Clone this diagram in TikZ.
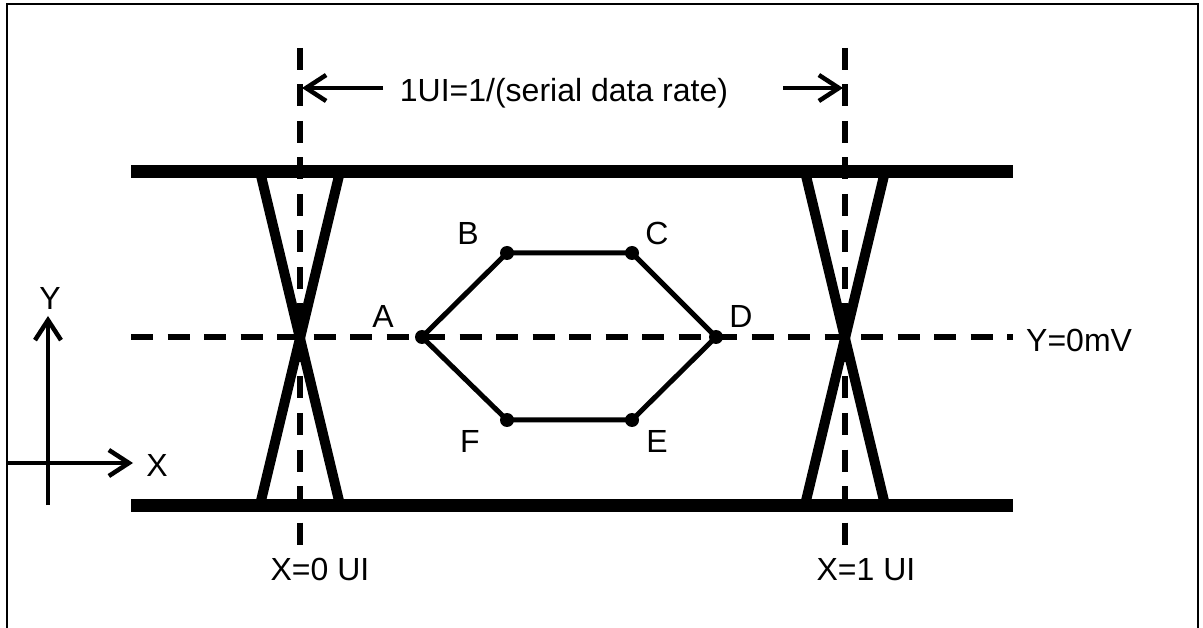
\documentclass[tikz,border=0pt]{standalone}
\usepackage{fontspec}
\setmainfont{Liberation Sans}
\usetikzlibrary{arrows.meta}
\begin{document}
\begin{tikzpicture}[x=1pt,y=-1pt,
  lbl/.style={inner sep=0pt,anchor=base,font=\fontsize{32}{38}\selectfont},
  rail/.style={line width=13pt},
  leg/.style={line width=10pt},
  dsh/.style={line width=6.5pt,dash pattern=on 22pt off 14.5pt},
  hexe/.style={line width=5pt},
  dotp/.style={circle,fill=black,inner sep=0pt,minimum size=14pt},
  axis/.style={line width=4.5pt,-{Straight Barb[length=20pt,width=26pt]}},
  frame/.style={line width=2pt}]
\useasboundingbox (0,0) rectangle (1203,628);
\fill[white] (0,0) rectangle (1203,628);
% frame
\coordinate (f1) at (7,640);
\coordinate (f2) at (7,4);
\coordinate (f3) at (1198,4);
\coordinate (f4) at (1198,640);
\draw[frame] (f1) -- (f2) -- (f3) -- (f4);
% rails
\coordinate (tl) at (131,171.5);
\coordinate (tr) at (1013,171.5);
\coordinate (bl) at (131,505);
\coordinate (br) at (1013,505);
\draw[rail] (tl) -- (tr);
\draw[rail] (bl) -- (br);
% crossing legs
\coordinate (l1) at (260,171.5);
\coordinate (l2) at (340,171.5);
\coordinate (l3) at (260,505);
\coordinate (l4) at (340,505);
\draw[leg] (l1) -- (l4);
\draw[leg] (l2) -- (l3);
\coordinate (r1) at (805,171.5);
\coordinate (r2) at (885,171.5);
\coordinate (r3) at (805,505);
\coordinate (r4) at (885,505);
\draw[leg] (r1) -- (r4);
\draw[leg] (r2) -- (r3);
% dashed lines
\coordinate (v0t) at (300,48);
\coordinate (v0b) at (300,546);
\coordinate (v1t) at (845,48);
\coordinate (v1b) at (845,546);
\coordinate (hl) at (131,337);
\coordinate (hr) at (1013,337);
\draw[dsh] (v0t) -- (v0b);
\draw[dsh] (v1t) -- (v1b);
\draw[dsh] (hl) -- (hr);
% UI arrows
\node[lbl] (ui) at (564,102) {1UI=1/(serial data rate)};
\coordinate (a1s) at (383,88);
\coordinate (a1e) at (302,88);
\coordinate (a2s) at (783,88);
\coordinate (a2e) at (843,88);
\draw[axis] (a1s) -- (a1e);
\draw[axis] (a2s) -- (a2e);
% hexagon
\node[dotp] (A) at (422,337) {};
\node[dotp] (B) at (507,253) {};
\node[dotp] (C) at (632,253) {};
\node[dotp] (D) at (716,337) {};
\node[dotp] (E) at (632,420) {};
\node[dotp] (F) at (507,420) {};
\draw[hexe] (A.center) -- (B.center) -- (C.center) -- (D.center) -- (E.center) -- (F.center) -- cycle;
\node[lbl] (lA) at (383,328) {A};
\node[lbl] (lB) at (468,245) {B};
\node[lbl] (lC) at (657,245) {C};
\node[lbl] (lD) at (741,328) {D};
\node[lbl] (lE) at (657,453) {E};
\node[lbl] (lF) at (470,453) {F};
% axes
\coordinate (yb) at (48,505);
\coordinate (yt) at (48,316);
\coordinate (xl) at (7,463);
\coordinate (xr) at (133,463);
\draw[axis] (yb) -- (yt);
\draw[axis] (xl) -- (xr);
\node[lbl] (lY) at (50,310) {Y};
\node[lbl] (lX) at (157,476) {X};
% other labels
\node[lbl,anchor=base west] (y0) at (1026,352) {Y=0mV};
\node[lbl] (x0) at (320,580) {X=0 UI};
\node[lbl] (x1) at (866,580) {X=1 UI};
\end{tikzpicture}
\end{document}
